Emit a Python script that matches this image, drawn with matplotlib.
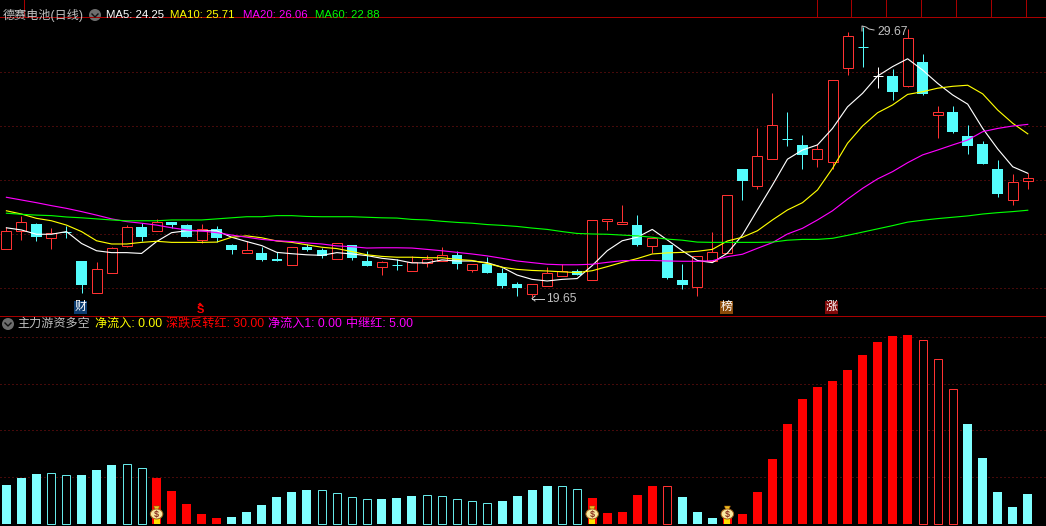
import matplotlib
matplotlib.use("Agg")
import matplotlib.pyplot as plt
from matplotlib.patches import Circle, Ellipse, Polygon, Rectangle

# ---------- candles (price) ----------
kind = ['r','r','c','r','c','c','r','r','r','c','r','c','c','r','c','c','r','c','c','r',
        'c','c','r','c','c','r','c','r','r','r','c','r','c','c','c','r','r','r','c','r',
        'r','r','c','r','c','c','r','r','r','c','r','r','c','c','r','r','r','c','w','c',
        'r','c','r','c','c','c','c','r','r']
body_top = [22.11,22.43,22.37,22.03,22.09,21.00,20.69,21.47,22.25,22.26,22.43,22.46,22.33,22.17,22.17,21.59,21.40,21.30,21.07,21.51,
            21.51,21.41,21.66,21.59,21.00,20.95,20.85,20.95,21.06,21.21,21.22,20.88,20.89,20.56,20.15,20.14,20.54,20.62,20.62,22.51,
            22.54,22.43,22.33,21.84,21.59,20.30,21.17,21.32,23.43,24.41,24.88,26.03,25.51,25.30,25.14,27.69,29.32,28.91,27.86,27.85,
            29.25,28.37,26.51,26.52,25.63,25.33,24.41,23.91,24.06]
body_bot = [21.44,22.11,21.89,21.86,22.09,20.11,19.83,20.57,21.57,21.89,22.12,22.33,21.89,21.79,21.85,21.41,21.31,21.04,21.00,20.86,
            21.41,21.20,21.09,21.11,20.81,20.79,20.85,20.64,20.93,21.01,20.90,20.68,20.56,20.07,20.00,19.79,20.09,20.46,20.48,20.31,
            22.47,22.37,21.59,21.57,20.37,20.11,20.05,20.99,21.31,23.96,23.79,24.79,25.51,24.93,24.77,24.68,28.16,28.91,27.86,27.27,
            27.49,27.20,26.40,25.78,25.27,24.59,23.48,23.27,23.97]
high = [22.26,22.67,22.42,22.22,22.31,21.00,20.96,21.53,22.33,22.40,22.56,22.46,22.37,22.37,22.30,21.63,21.73,21.52,21.33,21.51,
        21.63,21.47,21.66,21.59,21.37,21.00,21.07,21.19,21.21,21.52,21.37,20.88,21.15,20.73,20.22,20.14,20.77,20.88,20.70,22.51,
        22.54,23.07,22.70,21.84,21.59,20.89,21.17,22.07,23.43,24.41,25.93,27.22,26.52,25.67,25.33,27.69,29.48,29.67,28.19,28.10,
        29.59,28.67,26.74,26.74,26.04,25.44,24.74,24.22,24.26]
low = [21.44,21.78,21.74,21.44,21.86,19.81,19.83,20.57,21.53,21.74,22.12,22.21,21.89,21.68,21.70,21.26,21.31,21.00,20.99,20.86,
       21.37,21.12,21.09,21.04,20.81,20.48,20.67,20.64,20.78,21.01,20.70,20.59,20.56,20.00,19.70,19.65,20.09,20.46,20.48,20.31,
       22.15,22.37,21.56,21.29,20.33,19.96,19.70,20.99,21.31,23.26,23.67,24.79,25.27,24.41,24.49,24.41,27.90,28.20,27.42,26.97,
       27.46,27.15,25.57,25.73,24.96,24.59,23.38,23.09,23.67]

ma5 = [22.23,22.15,21.99,21.99,22.09,21.65,21.38,21.31,21.31,21.28,21.72,22.05,22.12,22.12,22.12,21.88,21.72,21.57,21.32,21.27,
       21.23,21.21,21.31,21.26,21.20,21.10,21.04,20.93,20.93,21.04,21.00,21.00,20.94,20.77,20.48,20.32,20.26,20.32,20.35,20.83,
       21.38,21.75,21.88,22.17,21.78,21.38,21.02,20.94,21.29,21.96,22.89,23.81,24.77,25.11,25.30,25.91,26.71,27.21,27.85,28.20,
       28.49,28.07,27.58,27.15,26.81,25.91,25.15,24.49,24.25]
ma10 = [22.86,22.74,22.58,22.49,22.33,22.09,21.75,21.63,21.63,21.69,21.73,21.69,21.69,21.69,21.70,21.88,21.93,21.86,21.74,21.69,
        21.60,21.51,21.46,21.35,21.23,21.17,21.14,21.14,21.12,21.12,21.06,21.02,20.91,20.77,20.69,20.65,20.63,20.60,20.57,20.64,
        20.79,20.95,21.09,21.26,21.30,21.32,21.36,21.43,21.74,21.88,22.12,22.52,22.89,23.16,23.63,24.43,25.36,26.00,26.49,26.78,
        27.17,27.27,27.40,27.47,27.51,27.19,26.59,26.10,25.71]
ma20 = [23.36,23.26,23.16,23.05,22.95,22.83,22.70,22.56,22.46,22.40,22.33,22.23,22.15,22.11,22.05,21.96,21.88,21.80,21.75,21.72,
        21.67,21.63,21.56,21.53,21.48,21.49,21.49,21.48,21.43,21.38,21.32,21.26,21.19,21.10,21.00,20.94,20.88,20.86,20.86,20.88,
        20.95,21.01,21.02,21.02,21.00,20.99,20.99,21.01,21.16,21.25,21.47,21.68,22.00,22.21,22.52,22.86,23.29,23.69,24.04,24.31,
        24.64,24.93,25.11,25.30,25.48,25.79,25.91,26.00,26.06]
ma60 = [22.77,22.73,22.70,22.68,22.63,22.60,22.56,22.52,22.49,22.49,22.49,22.52,22.52,22.52,22.56,22.60,22.64,22.64,22.68,22.68,
        22.65,22.64,22.64,22.64,22.62,22.60,22.59,22.54,22.52,22.47,22.43,22.40,22.35,22.32,22.28,22.22,22.17,22.09,22.02,22.00,
        21.99,21.96,21.93,21.88,21.81,21.77,21.70,21.69,21.69,21.69,21.69,21.70,21.77,21.80,21.80,21.84,21.95,22.07,22.19,22.31,
        22.44,22.51,22.57,22.62,22.67,22.74,22.79,22.83,22.88]

# ---------- lower panel ----------
flow = [16.7,19.7,21.4,21.7,20.8,20.9,23.1,25.2,25.5,23.8,19.7,14.1,8.5,4.3,2.6,3.0,5.1,8.1,11.5,13.7,
        14.5,14.4,13.1,11.4,10.5,10.7,11.1,12.0,12.3,11.8,10.5,9.7,8.8,9.8,12.0,14.5,16.2,16.1,14.8,11.1,
        4.7,5.1,12.4,16.2,16.1,11.5,5.1,2.6,5.5,4.3,13.7,27.8,42.7,53.4,58.5,61.1,65.8,72.2,77.8,80.3,
        80.8,78.5,70.4,57.5,42.7,28.2,13.7,7.3,12.8]
flow_style = (['C','C','C','H','H','C','C','C','H','H'] + ['R']*5 + ['C']*6 + ['H']*4 + ['C']*3 +
              ['H']*5 + ['C']*4 + ['H']*2 + ['R']*5 + ['S'] + ['C']*3 + ['R']*13 + ['S']*3 + ['C']*5)
bag_idx = [10, 39, 48]

price_ticks = [20, 22, 24, 26, 28]
flow_ticks = [20, 40, 60, 80]
title_main = "德赛电池(日线)"
ma_labels = ["MA5: 24.25", "MA10: 25.71", "MA20: 26.06", "MA60: 22.88"]
sub_labels = ["净流入: 0.00", "深跌反转红: 30.00", "净流入1: 0.00", "中继红: 5.00"]

# ---------- layout ----------
W, H = 1046, 526
PX = 0.72
STEP, X0 = 15.02, 6.4
RED, CYAN = "#ff3232", "#54fcfc"
BAR_C, BAR_H = "#80ffff", "#66e8e8"
GRID, FRAME = "#8c1414", "#a80000"
FAM = ["Liberation Sans", "Noto Sans CJK SC"]
xs = list(range(len(high)))
xlim = (-X0 / STEP, (W - X0) / STEP)

fig = plt.figure(figsize=(W / 100, H / 100), dpi=100, facecolor="black")


def panel(top, bottom):
    ax = fig.add_axes([0, (H - bottom) / H, 1, (bottom - top) / H], facecolor="black")
    ax.set_xlim(*xlim)
    ax.set_axis_off()
    return ax


ax1 = panel(17, 315)
ax1.set_ylim(19.0, 30.037)
for t in price_ticks:
    ax1.axhline(t, color=GRID, lw=PX, ls=(0, (1, 3)), zorder=1)

for i in xs:
    c = {"r": RED, "c": CYAN, "w": "white"}[kind[i]]
    ax1.vlines(i, low[i], high[i], color=c, lw=PX, zorder=2)
    if body_top[i] == body_bot[i]:
        ax1.hlines(body_top[i], i - 5 / STEP, i + 5 / STEP, color=c, lw=PX, zorder=3)
    elif kind[i] == "c":
        ax1.bar(i, body_top[i] - body_bot[i], 10.5 / STEP, body_bot[i], color=c, lw=0, zorder=3)
    else:
        ax1.bar(i, body_top[i] - body_bot[i], 10 / STEP, body_bot[i], facecolor="black", edgecolor=c,
                lw=PX, zorder=3)

for vals, col in ((ma5, "white"), (ma10, "#ffff00"), (ma20, "#ff00ff"), (ma60, "#00ff00")):
    ax1.plot(xs, vals, color=col, lw=PX * 1.15, zorder=4)

ax2 = panel(316, 526)
ax2.set_ylim(-0.85, 88.9)
for t in flow_ticks:
    ax2.axhline(t, color=GRID, lw=PX, ls=(0, (1, 3)), zorder=1)
for i, v in enumerate(flow):
    s = flow_style[i]
    if s == "C":
        ax2.bar(i, v, 9 / STEP, color=BAR_C, lw=0, zorder=2)
    elif s == "R":
        ax2.bar(i, v, 9 / STEP, color="#ff0000", lw=0, zorder=2)
    else:
        ec = BAR_H if s == "H" else RED
        ax2.bar(i, v, 8 / STEP, facecolor="black", edgecolor=ec, lw=PX, zorder=2)

# ---------- pixel overlay ----------
ov = fig.add_axes([0, 0, 1, 1], facecolor="none")
ov.set_xlim(0, W)
ov.set_ylim(H, 0)
ov.set_axis_off()
ov.plot([0, W], [16.5, 16.5], color=FRAME, lw=PX)
ov.plot([0, W], [315.5, 315.5], color=FRAME, lw=PX)
for x in (23, 816, 850, 885, 920, 955, 990, 1025):
    ov.plot([x + .5, x + .5], [0, 16], color=FRAME, lw=PX)


def label(x, y, s, col, size=8.7):
    ov.text(x, y, s, color=col, fontsize=size, family=FAM, va="center", ha="left")


def chevron(x, y):
    ov.add_patch(Circle((x, y), 6, color="#6e6e6e", lw=0))
    ov.plot([x - 3, x, x + 3], [y - 1, y + 2, y - 1], color="#111111", lw=1)


label(3, 15, title_main, "#c0c0c0")
chevron(95, 15)
for x, s, c in zip((106, 170, 243, 315), ma_labels, ("white", "#ffff00", "#ff00ff", "#00ff00")):
    label(x, 15, s, c, size=8.2)

chevron(8, 324)
label(17, 324, "主力游资多空", "#c0c0c0")
for x, s, c in zip((95, 166, 268, 346), sub_labels, ("#ffff00", "#ff0000", "#ff00ff", "#ff00ff")):
    label(x, 324, s, c)

# high / low notes
ov.plot([532, 544], [298.5, 298.5], color="#c8c8c8", lw=PX)
ov.plot([535, 532, 535], [296, 298.5, 301], color="#c8c8c8", lw=PX)
label(546, 299, "19.65", "#c0c0c0")
ov.plot([862, 862, 866, 869, 874], [31, 26, 27, 29, 30], color="#c8c8c8", lw=PX)
label(877, 32, "29.67", "#c0c0c0")

# event tags
for x, s, bg in ((74, "财", "#0c3c70"), (720, "榜", "#8a4a08"), (825, "涨", "#800808")):
    ov.add_patch(Rectangle((x, 301), 13, 13, color=bg, lw=0))
    ov.text(x + 6.5, 307.2, s, color="white", fontsize=8.6, family=FAM, ha="center", va="center")
ov.add_patch(Polygon([[197.5, 305], [200, 302.5], [202.5, 305]], color="#ff0000", lw=0))
ov.text(200, 310, "S", color="#ff0000", fontsize=8, weight="bold", family=FAM, ha="center", va="center")

# money bags on the reversal bars
for i in bag_idx:
    x = X0 + STEP * i
    ov.add_patch(Rectangle((x - 3, 519), 6, 5, color="#ffe000", lw=0))
    ov.add_patch(Polygon([[x - 3, 506], [x + 3, 506], [x + 1.5, 510], [x - 1.5, 510]],
                         facecolor="#f0c020", edgecolor="#8a4a08", lw=0.4))
    ov.add_patch(Ellipse((x, 514), 12.5, 10, facecolor="#f8e8a0", edgecolor="#a06018", lw=0.7))
    ov.text(x, 514, "$", color="#8a3020", fontsize=6.5, weight="bold", family=FAM, ha="center", va="center")

fig.savefig("out.png", dpi=100, facecolor="black")
